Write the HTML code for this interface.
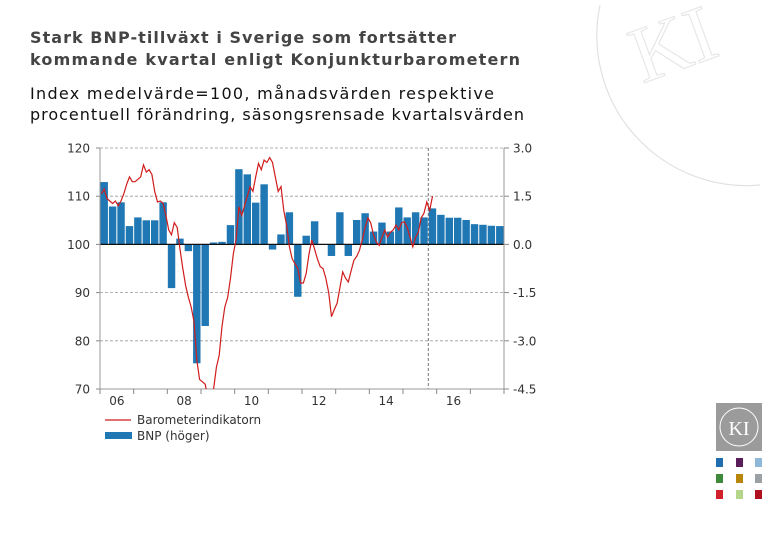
<!DOCTYPE html>
<html><head><meta charset="utf-8"><style>
body{margin:0;background:#fff;width:780px;height:540px;overflow:hidden}
svg{display:block;font-family:"DejaVu Sans","Liberation Sans",sans-serif}
</style></head><body>
<svg id="c" width="780" height="540" viewBox="0 0 780 540">
<g opacity="0.35" fill="none" stroke="#aaa" stroke-width="1.2">
<path d="M600,5 A150,150 0 0 0 760,185"/>
<text x="640" y="70" font-size="80" fill="none" stroke="#bbb" font-family="Liberation Serif,serif" transform="rotate(-20 680 70)">KI</text>
</g>
<text x="30" y="43" font-size="16" font-weight="bold" fill="#444" textLength="426">Stark BNP-tillväxt i Sverige som fortsätter</text>
<text x="30" y="65" font-size="16" font-weight="bold" fill="#444" textLength="490">kommande kvartal enligt Konjunkturbarometern</text>
<text x="30" y="99" font-size="16" fill="#111" textLength="464">Index medelvärde=100, månadsvärden respektive</text>
<text x="30" y="120" font-size="16" fill="#111" textLength="494">procentuell förändring, säsongsrensade kvartalsvärden</text>
<g id="grid"></g><g id="bars"></g><g id="axes"></g><g id="line"></g>
<g>
<line x1="105" y1="420" x2="131" y2="420" stroke="#d01c1c" stroke-width="1.2"/>
<text x="137" y="424" font-size="12" fill="#333">Barometerindikatorn</text>
<rect x="105" y="432" width="27" height="7" fill="#1f77b4"/>
<text x="137" y="440" font-size="12" fill="#333">BNP (höger)</text>
</g>
<g>
<rect x="716" y="403" width="46" height="48" fill="#9b9b9b"/>
<circle cx="739" cy="427" r="19" fill="none" stroke="#fff" stroke-width="1"/>
<text x="739" y="435" font-size="20" fill="#fff" text-anchor="middle" font-family="Liberation Serif,serif">KI</text>
<rect x="716" y="458" width="7" height="9" fill="#1f6fb0"/><rect x="736" y="458" width="7" height="9" fill="#5a1f5a"/><rect x="755" y="458" width="7" height="9" fill="#8fb8d8"/>
<rect x="716" y="474" width="7" height="9" fill="#3f8a3a"/><rect x="736" y="474" width="7" height="9" fill="#b8860b"/><rect x="755" y="474" width="7" height="9" fill="#9aa0a4"/>
<rect x="716" y="490" width="7" height="9" fill="#d0202a"/><rect x="736" y="490" width="7" height="9" fill="#b5d68a"/><rect x="755" y="490" width="7" height="9" fill="#b01020"/>
</g>
</svg>
<script>
const years = ["06","08","10","12","14","16"];
const leftTicks = [70,80,90,100,110,120];
const rightTicks = ["-4.5","-3.0","-1.5","0.0","1.5","3.0"];
const bnp = [1.94,1.18,1.31,0.57, 0.84,0.75,0.75,1.31, -1.36,0.18,-0.21,-3.7, -2.54,0.06,0.08,0.6,
 2.34,2.18,1.3,1.87, -0.16,0.31,1.0,-1.63, 0.27,0.72,0.0,-0.36, 1.0,-0.36,0.76,0.97,
 0.4,0.68,0.4,1.15, 0.84,1.0,0.84,1.12, 0.92,0.83,0.83,0.76, 0.63,0.61,0.58,0.57];
const baro = [110.5,111.5,109.5,109,108.5,109,108,109,110.5,112.5,114,113,
 113,113.5,114,116.5,115,115.5,114.5,111,108.8,109,108.5,106,
 103,102,104.5,103.5,99,95,91.5,89,87,84,76,72,
 71.5,71,68,67,70,74.5,77,83,87,89,93,98,
 101,107.8,106,108,110,112,111,114,116.8,115.5,117.5,117,
 118,117,114,111,112,107,104,99.5,97,96,95,92,
 92,94,98,100.9,99,97,95.4,95,93,90,85,86.5,
 87.8,91,94.3,93,92.2,94.5,96.7,97.5,98.8,101,103.5,105.5,
 104.5,102,100.5,99.8,101.5,103,101.5,102.5,103,104,103,104.5,
 104.7,103.5,101.5,99.5,101.5,102.6,105.5,106.5,108.8,107.1,110];
const X0=100,X1=504,Y0=148,Y1=389,start=2006,end=2018,forecast=2015.75;
const xT=t=>X0+(t-start)/(end-start)*(X1-X0);
const yL=v=>Y1-(v-70)/(120-70)*(Y1-Y0);
const yR=v=>Y1-(v+4.5)/7.5*(Y1-Y0);
const NS="http://www.w3.org/2000/svg";
function mk(tag,attrs,parent){const e=document.createElementNS(NS,tag);for(const k in attrs)e.setAttribute(k,attrs[k]);document.getElementById(parent).appendChild(e);return e;}
leftTicks.forEach((v,i)=>{
 const y=yL(v);
 if(v!==100&&v!==70){const g=mk("line",{x1:X0,x2:X1,y1:y,y2:y,stroke:"#999","stroke-dasharray":"3,2","stroke-width":0.8},"grid");
 
 }
 const t=mk("text",{x:90,y:y+4.5,"font-size":12,fill:"#333","text-anchor":"end"},"axes");t.textContent=v;
 
 
 const r=mk("text",{x:513,y:yR(parseFloat(rightTicks[i]))+4.5,"font-size":12,fill:"#333"},"axes");r.textContent=rightTicks[i];
 
 
 mk("line",{x1:X1,x2:X1+5,y1:y,y2:y,stroke:"#888"},"axes");
 mk("line",{x1:X0-4,x2:X0,y1:y,y2:y,stroke:"#888"},"axes");
});
const fl=mk("line",{x1:xT(forecast),x2:xT(forecast),y1:Y0,y2:Y1,stroke:"#555","stroke-dasharray":"3,2","stroke-width":0.8},"grid");


const qw=(X1-X0)/((end-start)*4);
bnp.forEach((v,i)=>{
 const x=xT(start+i/4),y0=yR(0),y=yR(v);
 const b=mk("rect",{x:x+0.5,y:Math.min(y,y0),width:qw-1,height:Math.abs(y-y0),fill:"#1f77b4"},"bars");
 
 
});
const ax=mk("line",{x1:X0,x2:X1,y1:yR(0),y2:yR(0),stroke:"#111","stroke-width":1.2},"axes");


mk("line",{x1:X0,x2:X0,y1:Y0,y2:Y1,stroke:"#999"},"axes");
mk("line",{x1:X1,x2:X1,y1:Y0,y2:Y1,stroke:"#999"},"axes");
mk("line",{x1:X0,x2:X1,y1:Y1,y2:Y1,stroke:"#999"},"axes");
for(let yr=start;yr<=end;yr++){mk("line",{x1:xT(yr),x2:xT(yr),y1:Y1,y2:Y1+5,stroke:"#888"},"axes");}
years.forEach(l=>{const yr=2000+parseInt(l);
 const t=mk("text",{x:xT(yr+0.5),y:Y1+16,"font-size":12,fill:"#333","text-anchor":"middle"},"axes");t.textContent=l;
 
 });
const pts=baro.map((v,i)=>xT(start+(i+0.5)/12).toFixed(1)+","+yL(v).toFixed(1)).join(" ");
const cp=mk("clipPath",{id:"clp"},"line");mk("rect",{x:X0,y:Y0,width:X1-X0,height:Y1-Y0},"line");
const clipRect=document.getElementById("line").lastChild;cp.appendChild(clipRect);
const pl=mk("polyline",{points:pts,fill:"none",stroke:"#d01c1c","stroke-width":1.2,"clip-path":"url(#clp)"},"line");


</script>
</body></html>
